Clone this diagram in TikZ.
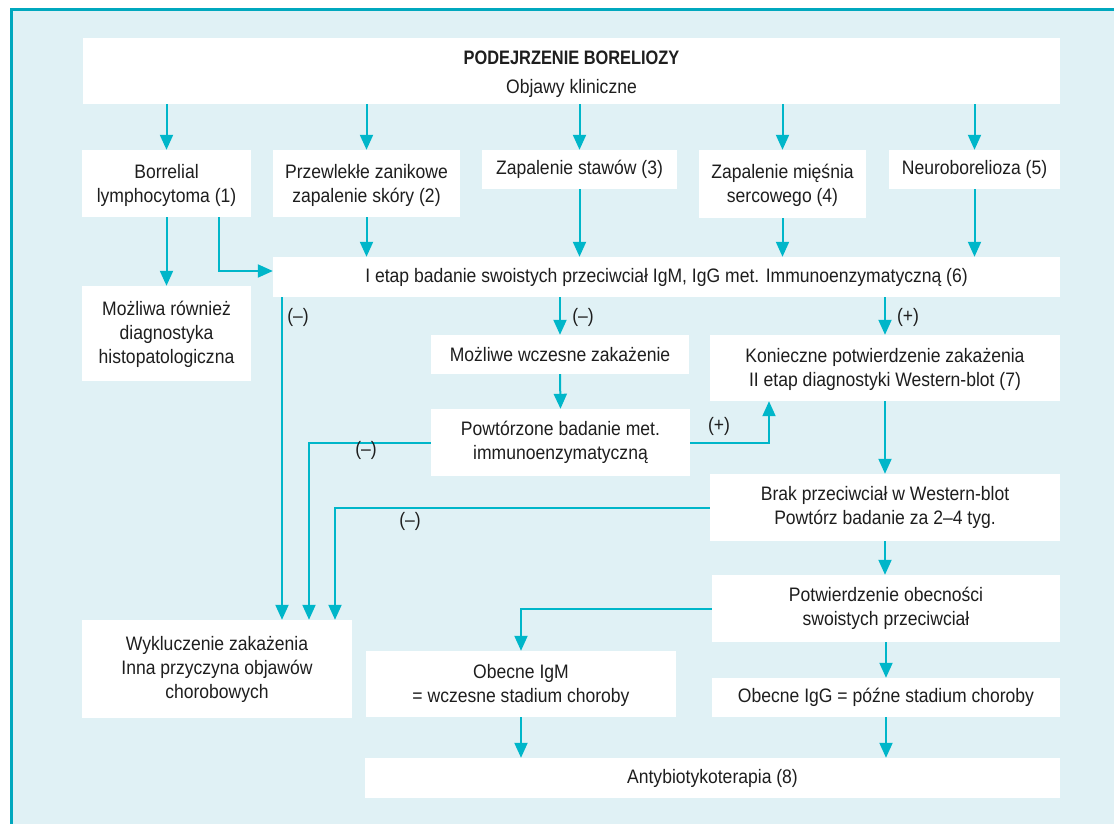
\documentclass[tikz,border=0pt]{standalone}
\usepackage{fontspec}
\setmainfont{Liberation Sans}[FakeStretch=0.9, BoldFeatures={FakeStretch=0.84}]
\usetikzlibrary{arrows.meta}
\definecolor{panel}{HTML}{E0F1F5}
\definecolor{rim}{HTML}{00A8BE}
\definecolor{flow}{HTML}{00B6C9}
\definecolor{ink}{HTML}{1E1E1E}
% taller first line, so that two-line texts sit a little lower in their boxes
\newcommand{\firstline}[1]{\rule{0pt}{#1}}
\begin{document}
\begin{tikzpicture}[x=1pt,y=-1pt,
  box/.style={fill=white, draw=none, inner sep=0pt, align=center, text=ink,
    font=\fontsize{19.5}{24}\selectfont},
  arr/.style={draw=flow, line width=2pt,
    -{Triangle[width=13pt,length=15pt]}},
  sign/.style={text=ink, inner sep=0pt, font=\fontsize{19.5}{24}\selectfont}]
\path[use as bounding box] (0,0) rectangle (1114,824);
\clip (0,0) rectangle (1114,824);

% panel with its rim on the left and top
\fill[panel] (10,8) rectangle (1140,850);
\draw[rim, line width=2.6pt] (11.3,850) -- (11.3,9.3) -- (1140,9.3);

% boxes
\node[box, minimum width=977pt, minimum height=66pt] (top) at (571.5,71)
  {\firstline{20pt}\textbf{PODEJRZENIE BORELIOZY}\\[5pt]Objawy kliniczne};
\node[box, minimum width=169pt, minimum height=67pt] (b1) at (166.5,183.5)
  {\firstline{18pt}Borrelial\\lymphocytoma (1)};
\node[box, minimum width=187pt, minimum height=67pt] (b2) at (366.5,183.5)
  {\firstline{18pt}Przewlekłe zanikowe\\zapalenie skóry (2)};
\node[box, minimum width=195pt, minimum height=39pt] (b3) at (579.5,169.5)
  {Zapalenie stawów (3)};
\node[box, minimum width=167pt, minimum height=68pt] (b4) at (782.5,184)
  {\firstline{18pt}Zapalenie mięśnia\\sercowego (4)};
\node[box, minimum width=171pt, minimum height=39pt] (b5) at (974.5,169.5)
  {Neuroborelioza (5)};
\node[box, minimum width=787pt, minimum height=40pt] (etap) at (666.5,277)
  {I etap badanie swoistych przeciwciał IgM, IgG met. Immunoenzymatyczną (6)};
\node[box, minimum width=169pt, minimum height=95pt] (hist) at (166.5,333.5)
  {\firstline{17pt}Możliwa również\\diagnostyka\\histopatologiczna};
\node[box, minimum width=258pt, minimum height=39pt] (wcz) at (560,354.5)
  {Możliwe wczesne zakażenie};
\node[box, minimum width=350pt, minimum height=66pt] (kon) at (885,368)
  {\firstline{17pt}Konieczne potwierdzenie zakażenia\\II etap diagnostyki Western-blot (7)};
\node[box, minimum width=259pt, minimum height=67pt] (powt) at (560.5,442.5)
  {Powtórzone badanie met.\\immunoenzymatyczną};
\node[box, minimum width=350pt, minimum height=67pt] (brak) at (885,507.5)
  {Brak przeciwciał w Western-blot\\Powtórz badanie za 2--4 tyg.};
\node[box, minimum width=348pt, minimum height=67pt] (potw) at (886,608.5)
  {Potwierdzenie obecności\\swoistych przeciwciał};
\node[box, minimum width=270pt, minimum height=98pt] (wyk) at (217,669)
  {Wykluczenie zakażenia\\Inna przyczyna objawów\\chorobowych};
\node[box, minimum width=310pt, minimum height=66pt] (igm) at (521,684)
  {\firstline{17pt}Obecne IgM\\= wczesne stadium choroby};
\node[box, minimum width=348pt, minimum height=39pt] (igg) at (886,697.5)
  {Obecne IgG = późne stadium choroby};
\node[box, minimum width=695pt, minimum height=40pt] (anty) at (712.5,778)
  {Antybiotykoterapia (8)};

% columns and bends used by the side connectors
\coordinate (bend) at (219,271);
\coordinate (neg1) at (282,0);
\coordinate (neg2) at (309,0);
\coordinate (neg3) at (335,0);
\coordinate (pos) at (769,0);

% from the suspicion to the clinical pictures
\foreach \b in {b1,b2,b3,b4,b5}
  \draw[arr] (top.south -| \b.north) -- (\b.north);
\foreach \b in {b2,b3,b4,b5}
  \draw[arr] (\b.south) -- (etap.north -| \b.south);
\draw[arr] (b1.south) -- (hist.north);
\draw[arr] (b1.south -| bend) |- (etap.west |- bend);

% first stage
\draw[arr] (etap.south -| neg1) -- (wyk.north -| neg1);
\draw[arr] (etap.south -| wcz.north) -- (wcz.north);
\draw[arr] (etap.south -| kon.north) -- (kon.north);
\draw[arr] (wcz.south) -- (powt.north);
\draw[arr] (powt.west) -| (wyk.north -| neg2);
\draw[arr] (powt.east) -| (kon.south -| pos);

% second stage
\draw[arr] (kon.south) -- (brak.north -| kon.south);
\draw[arr] (brak.west) -| (wyk.north -| neg3);
\draw[arr] (brak.south) -- (potw.north -| brak.south);
\draw[arr] (potw.west) -| (igm.north);
\draw[arr] (potw.south) -- (igg.north -| potw.south);
\draw[arr] (igm.south) -- (anty.north -| igm.south);
\draw[arr] (igg.south) -- (anty.north -| igg.south);

% result signs
\node[sign] (s1) at (298,317) {(--)};
\node[sign] (s2) at (583,317) {(--)};
\node[sign] (s3) at (908,317) {(+)};
\node[sign] (s4) at (719,426) {(+)};
\node[sign] (s5) at (366,450) {(--)};
\node[sign] (s6) at (410,521) {(--)};
\end{tikzpicture}
\end{document}
